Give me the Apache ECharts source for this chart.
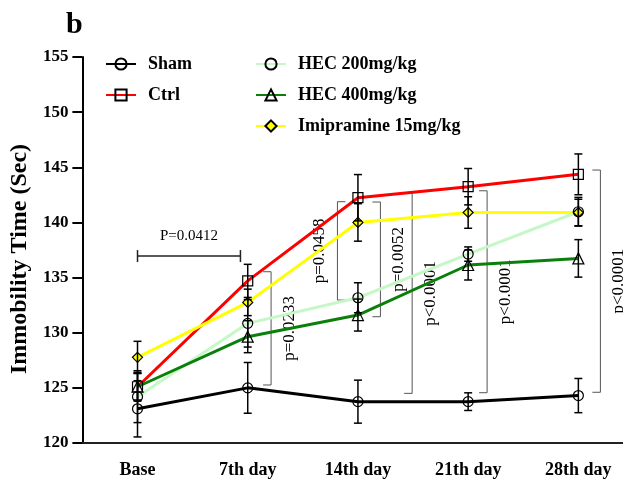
<!DOCTYPE html>
<html lang="en">
<head>
<meta charset="UTF-8">
<title>Immobility Time</title>
<script src="https://cdn.jsdelivr.net/npm/echarts@6/dist/echarts.min.js"></script>
</head>
<body style="margin:0">
<div id="main" style="width:623px;height:481px"></div>
<script>
// categories / tick labels
const days = ['Base', '7th day', '14th day', '21th day', '28th day'];
const yTicks = [120, 125, 130, 135, 140, 145, 150, 155];

// group means and SD
const shamMean = [123.1, 125.0, 123.75, 123.75, 124.3];
const shamSd = [2.55, 2.3, 1.95, 0.8, 1.55];
const ctrlMean = [125.1, 134.7, 142.24, 143.24, 144.36];
const ctrlSd = [1.3, 1.5, 2.1, 1.65, 1.85];
const hec200Mean = [124.2, 130.85, 133.17, 137.13, 140.97];
const hec200Sd = [2.35, 2.15, 1.36, 0.65, 1.3];
const hec400Mean = [125.1, 129.64, 131.6, 136.14, 136.74];
const hec400Sd = [1.2, 1.45, 1.45, 1.36, 1.7];
const imiMean = [127.77, 132.75, 140.0, 140.9, 140.9];
const imiSd = [1.45, 1.2, 1.7, 1.43, 1.2];

// significance brackets (x in day index units, y in seconds)
const bracketX = [1.212, 1.814, 2.204, 2.492, 3.172, 4.2];
const bracketTop = [135.53, 141.88, 141.85, 142.64, 142.87, 144.75];
const bracketBottom = [125.26, 132.96, 131.45, 124.5, 124.56, 124.6];
const bracketLabel = ['p=0.0233', 'p=0.0458', 'p=0.0052', 'p<0.0001', 'p<0.0001', 'p<0.0001'];
const bracketOpen = ['left', 'right', 'left', 'left', 'left', 'left'];

const hBracketFrom = 0;
const hBracketTo = 0.934;
const hBracketY = 136.95;
const hBracketLabel = 'P=0.0412';

const FONT = '"Liberation Serif", "Times New Roman", serif';

const chart = echarts.init(document.getElementById('main'));

function pairs(means) {
    return means.map((v, i) => [i, v]);
}

function errData(means, sds) {
    return means.map((v, i) => [i, v - sds[i], v + sds[i]]);
}

function errorBarItem(params, api) {
    const x = api.value(0);
    const bot = api.coord([x, api.value(1)]);
    const top = api.coord([x, api.value(2)]);
    const w = 4;
    const style = {stroke: '#000', lineWidth: 1.5};
    return {
        type: 'group',
        children: [
            {type: 'line', shape: {x1: top[0], y1: top[1], x2: bot[0], y2: bot[1]}, style: style},
            {type: 'line', shape: {x1: top[0] - w, y1: top[1], x2: top[0] + w, y2: top[1]}, style: style},
            {type: 'line', shape: {x1: bot[0] - w, y1: bot[1], x2: bot[0] + w, y2: bot[1]}, style: style}
        ]
    };
}

function bracketItem(params, api) {
    const i = params.dataIndex;
    const x = api.value(0);
    const top = api.coord([x, api.value(1)]);
    const bot = api.coord([x, api.value(2)]);
    const dir = bracketOpen[i] === 'left' ? -1 : 1;
    const t = 8;
    const style = {stroke: '#555', lineWidth: 1};
    return {
        type: 'group',
        children: [
            {type: 'line', shape: {x1: top[0], y1: top[1], x2: bot[0], y2: bot[1]}, style: style},
            {type: 'line', shape: {x1: top[0], y1: top[1], x2: top[0] + dir * t, y2: top[1]}, style: style},
            {type: 'line', shape: {x1: bot[0], y1: bot[1], x2: bot[0] + dir * t, y2: bot[1]}, style: style},
            {
                type: 'text',
                x: top[0] - dir * 18,
                y: (top[1] + bot[1]) / 2,
                rotation: Math.PI / 2,
                style: {
                    text: bracketLabel[i],
                    font: '17px ' + FONT,
                    fill: '#000',
                    align: 'center',
                    verticalAlign: 'middle'
                }
            }
        ]
    };
}

function hBracketItem(params, api) {
    const a = api.coord([api.value(0), api.value(2)]);
    const b = api.coord([api.value(1), api.value(2)]);
    const style = {stroke: '#222', lineWidth: 1.5};
    return {
        type: 'group',
        children: [
            {type: 'line', shape: {x1: a[0], y1: a[1], x2: b[0], y2: b[1]}, style: style},
            {type: 'line', shape: {x1: a[0], y1: a[1] - 6, x2: a[0], y2: a[1] + 6}, style: style},
            {type: 'line', shape: {x1: b[0], y1: b[1] - 6, x2: b[0], y2: b[1] + 6}, style: style},
            {
                type: 'text',
                x: (a[0] + b[0]) / 2,
                y: a[1] - 20,
                style: {
                    text: hBracketLabel,
                    font: '15px ' + FONT,
                    fill: '#000',
                    align: 'center',
                    verticalAlign: 'middle'
                }
            }
        ]
    };
}

function lineSeries(name, means, color, symbol, fill) {
    return {
        name: name,
        type: 'line',
        data: pairs(means),
        symbol: symbol,
        symbolSize: symbol === 'triangle' ? 11 : 10,
        lineStyle: {color: color, width: 3},
        itemStyle: {color: fill, borderColor: '#000', borderWidth: 1.2},
        z: 2
    };
}

function errSeries(means, sds) {
    return {
        type: 'custom',
        renderItem: errorBarItem,
        data: errData(means, sds),
        encode: {x: 0, y: [1, 2]},
        silent: true,
        z: 3
    };
}

const legendText = {
    fontFamily: FONT,
    fontWeight: 'bold',
    fontSize: 18,
    color: '#000',
    lineHeight: 20,
    padding: [0, 0, 0, 7]
};

const option = {
    animation: false,
    grid: {left: 82, right: 0, top: 57, bottom: 38},
    legend: [
        {
            data: ['Sham', 'Ctrl'],
            orient: 'vertical',
            left: 100,
            top: 49,
            itemWidth: 30,
            itemHeight: 14,
            itemGap: 11,
            textStyle: legendText
        },
        {
            data: ['HEC 200mg/kg', 'HEC 400mg/kg', 'Imipramine 15mg/kg'],
            orient: 'vertical',
            left: 250,
            top: 49,
            itemWidth: 30,
            itemHeight: 14,
            itemGap: 11,
            textStyle: legendText
        }
    ],
    graphic: [
        {
            type: 'text',
            left: 66,
            top: 10,
            style: {text: 'b', font: 'bold 30px ' + FONT, fill: '#000'}
        }
    ],
    xAxis: {
        type: 'value',
        min: -0.5,
        max: 4.405,
        splitLine: {show: false},
        axisLine: {onZero: false, lineStyle: {color: '#222', width: 2}},
        axisTick: {show: false},
        axisLabel: {
            customValues: [0, 1, 2, 3, 4],
            formatter: v => days[Math.round(v)],
            fontFamily: FONT,
            fontWeight: 'bold',
            fontSize: 18,
            color: '#000',
            margin: 18
        }
    },
    yAxis: {
        type: 'value',
        min: yTicks[0],
        max: yTicks[yTicks.length - 1],
        interval: 5,
        name: 'Immobility Time (Sec)',
        nameLocation: 'middle',
        nameRotate: 90,
        nameGap: 41,
        nameTextStyle: {
            fontFamily: FONT,
            fontWeight: 'bold',
            fontSize: 24,
            color: '#000',
            padding: [0, 18, 0, 0]
        },
        splitLine: {show: false},
        axisLine: {show: true, onZero: false, lineStyle: {color: '#000', width: 2}},
        axisTick: {show: true, length: 10, lineStyle: {color: '#000', width: 2}},
        axisLabel: {fontFamily: FONT, fontWeight: 'bold', fontSize: 17, color: '#000', margin: 14}
    },
    series: [
        lineSeries('Sham', shamMean, '#000000', 'circle', 'rgba(0,0,0,0)'),
        lineSeries('Ctrl', ctrlMean, '#ff0000', 'rect', 'rgba(0,0,0,0)'),
        lineSeries('HEC 200mg/kg', hec200Mean, '#c6f7c6', 'circle', 'rgba(0,0,0,0)'),
        lineSeries('HEC 400mg/kg', hec400Mean, '#0a800a', 'triangle', 'rgba(0,0,0,0)'),
        lineSeries('Imipramine 15mg/kg', imiMean, '#ffff00', 'diamond', '#ffff00'),
        errSeries(shamMean, shamSd),
        errSeries(ctrlMean, ctrlSd),
        errSeries(hec200Mean, hec200Sd),
        errSeries(hec400Mean, hec400Sd),
        errSeries(imiMean, imiSd),
        {
            type: 'custom',
            renderItem: bracketItem,
            data: bracketX.map((x, i) => [x, bracketTop[i], bracketBottom[i]]),
            encode: {x: 0, y: [1, 2]},
            silent: true,
            z: 1
        },
        {
            type: 'custom',
            renderItem: hBracketItem,
            data: [[hBracketFrom, hBracketTo, hBracketY]],
            encode: {x: [0, 1], y: 2},
            silent: true,
            z: 1
        }
    ]
};

chart.setOption(option);
</script>
</body>
</html>
